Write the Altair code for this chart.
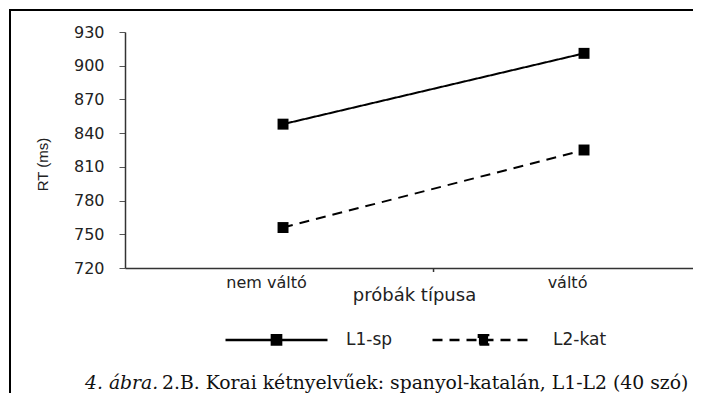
import altair as alt
import pandas as pd

# ---- data ----
categories = ["nem váltó", "váltó"]
cat_index = [0, 1]
series_names = ["L1-sp", "L2-kat"]
l1_values = [848, 911]
l2_values = [756, 825]
y_ticks = [720, 750, 780, 810, 840, 870, 900, 930]
y_title = "RT (ms)"
x_title = "próbák típusa"
caption_italic = "4. ábra."
caption_rest = "2.B. Korai kétnyelvűek: spanyol-katalán, L1-L2 (40 szó)"

rows = []
for s, vals in zip(series_names, [l1_values, l2_values]):
    for c, i, v in zip(categories, cat_index, vals):
        rows.append({"series": s, "cat": c, "idx": i, "rt": v})
df = pd.DataFrame(rows)

W, H = 568, 236
SANS = "DejaVu Sans"
TXT = "#222222"
LABEL_SHIFT = 0.0565  # labels sit slightly left of the markers in the reference

label_expr = " : ".join(
    [f"round(datum.value) == {i} ? '{c}'" for i, c in zip(cat_index[:-1], categories[:-1])]
    + [f"'{categories[-1]}'"]
)

x_scale = alt.Scale(domain=[-0.525, 1.362], nice=False, zero=False)
y_scale = alt.Scale(domain=[720, 930], nice=False, zero=False)

x_axis = alt.Axis(
    values=[i - LABEL_SHIFT for i in cat_index],
    labelExpr=label_expr,
    labelOverlap=False,
    ticks=False,
    tickSize=0,
    grid=False,
    domainColor="#333333",
    domainWidth=1.5,
    labelFont=SANS,
    labelFontSize=16,
    labelColor=TXT,
    labelBaseline="alphabetic",
    labelPadding=19,
    title=x_title,
    titleFont=SANS,
    titleFontSize=18,
    titleFontWeight="normal",
    titleColor=TXT,
    titleX=289,
    titleY=32,
    titleBaseline="alphabetic",
    titleAlign="center",
)
y_axis = alt.Axis(
    values=y_ticks,
    tickCount=len(y_ticks),
    labelOverlap=False,
    labelFlush=False,
    grid=False,
    tickSize=6,
    tickColor="#555555",
    domainColor="#333333",
    domainWidth=1.5,
    labelFont=SANS,
    labelFontSize=16,
    labelColor=TXT,
    labelPadding=15,
    title=y_title,
    titleFont="Liberation Sans",
    titleFontSize=15,
    titleFontWeight="normal",
    titleColor=TXT,
    titleAngle=-90,
    titleX=-83,
    titleY=132,
    titleAlign="center",
    titleBaseline="middle",
)

x_enc = alt.X("idx:Q", scale=x_scale, axis=x_axis)
y_enc = alt.Y("rt:Q", scale=y_scale, axis=y_axis)

legend_symbol = "M-1,0H1M-0.09,-0.09H0.09V0.09H-0.09Z"

lines = alt.Chart(df).mark_line(color="black", strokeWidth=2).encode(
    x=x_enc,
    y=y_enc,
    strokeDash=alt.StrokeDash(
        "series:N",
        scale=alt.Scale(domain=series_names, range=[[1, 0], [10, 7]]),
        legend=alt.Legend(
            title=None,
            orient="none",
            direction="horizontal",
            legendX=99,
            legendY=255,
            symbolType=legend_symbol,
            symbolSize=10404,
            symbolStrokeColor="black",
            symbolFillColor="black",
            symbolStrokeWidth=2.5,
            symbolOpacity=1,
            labelFont=SANS,
            labelFontSize=17,
            labelColor=TXT,
            labelOffset=17,
            columnPadding=34,
        ),
    ),
)

points = alt.Chart(df).mark_point(
    shape="square", filled=True, size=120, color="black", opacity=1
).encode(x=x_enc, y=y_enc)

# middle category separator tick on the x axis
sep = alt.Chart(pd.DataFrame({"b": [0.5]})).mark_rule(
    color="#333333", strokeWidth=1.5
).encode(x=alt.X("b:Q", scale=x_scale, axis=x_axis), y=alt.value(H), y2=alt.value(H + 4))

one = pd.DataFrame({"k": [0]})
frame_left = alt.Chart(one).mark_rule(color="black", strokeWidth=2).encode(
    x=alt.value(-115), y=alt.value(-22), y2=alt.value(420)
)
frame_top = alt.Chart(one).mark_rule(color="black", strokeWidth=2).encode(
    x=alt.value(-116), x2=alt.value(W), y=alt.value(-22), y2=alt.value(-22)
)

cap1 = alt.Chart(pd.DataFrame({"t": [caption_italic]})).mark_text(
    font="DejaVu Serif", fontSize=18.8, fontStyle="italic", align="left",
    baseline="alphabetic", color="#111111"
).encode(text="t:N", x=alt.value(-40), y=alt.value(357))
cap2 = alt.Chart(pd.DataFrame({"t": [caption_rest]})).mark_text(
    font="DejaVu Serif", fontSize=18.8, align="left",
    baseline="alphabetic", color="#111111"
).encode(text="t:N", x=alt.value(37), y=alt.value(357))

chart = (
    alt.layer(frame_left, frame_top, sep, lines, points, cap1, cap2)
    .properties(
        width=W,
        height=H,
        padding={"left": 117, "top": 24, "right": 0, "bottom": 125},
        autosize=alt.AutoSizeParams(type="none"),
        background="white",
    )
    .configure_view(stroke="transparent", strokeWidth=0, fill="white")
)

chart.save("out.html", embed_options={"renderer": "svg", "actions": False})
